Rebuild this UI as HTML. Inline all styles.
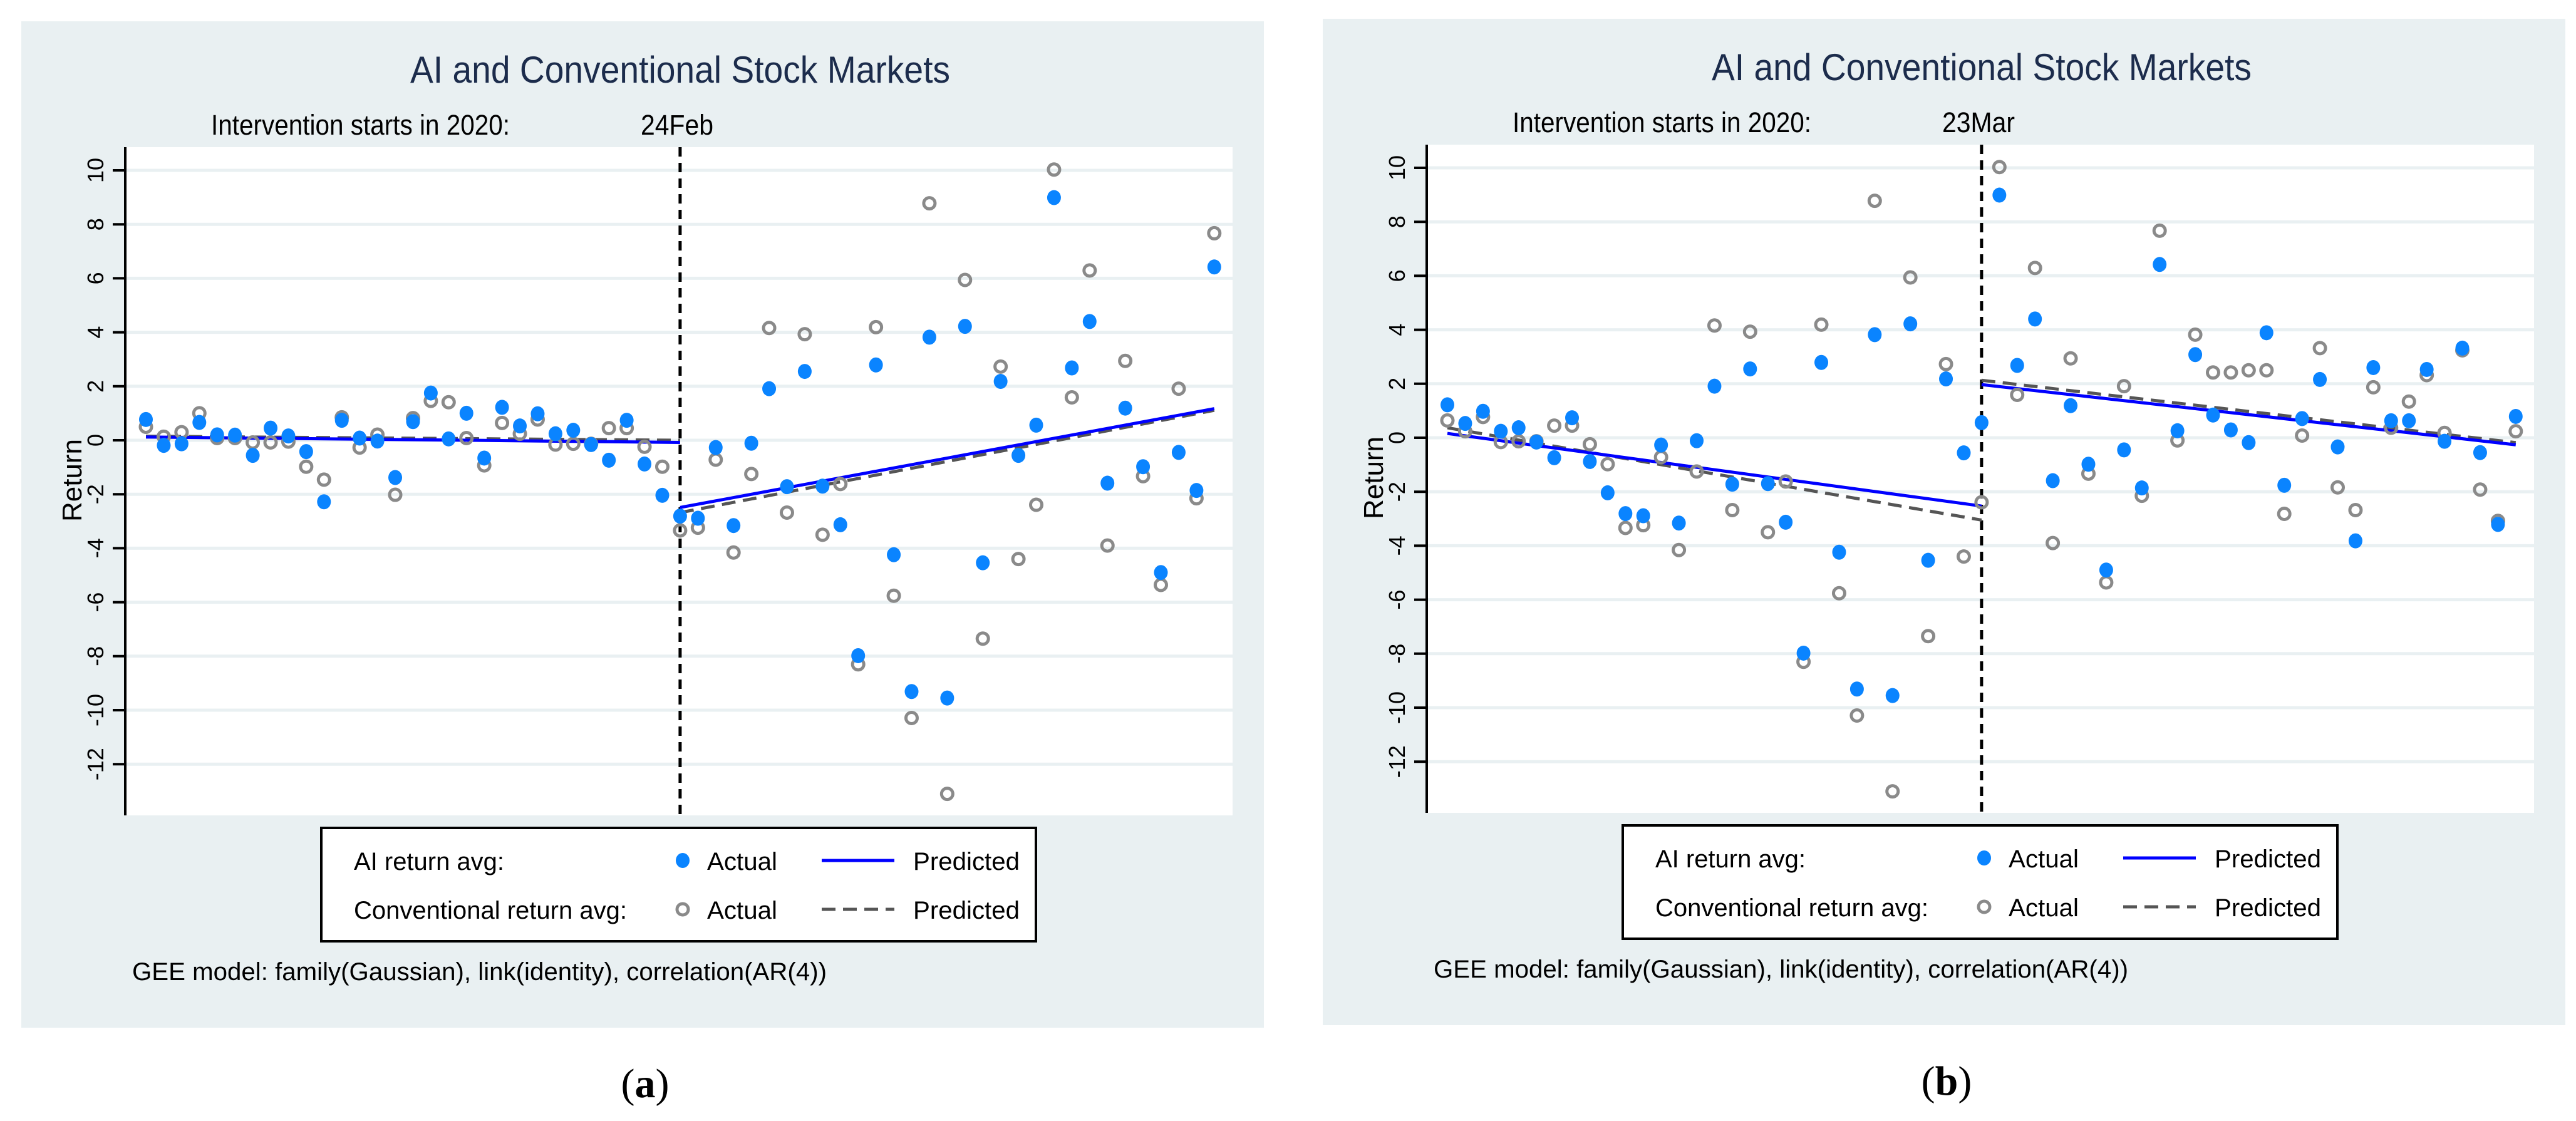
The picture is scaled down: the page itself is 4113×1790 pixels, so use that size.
<!DOCTYPE html>
<html><head><meta charset="utf-8"><style>
html,body{margin:0;padding:0;background:#fff;}
svg{display:block;}
text{font-family:"Liberation Sans",sans-serif;}
</style></head><body>
<svg id="chart" xmlns="http://www.w3.org/2000/svg" width="4113" height="1790" viewBox="0 0 4113 1790"></svg>
<script>
const aiA = [0.77,-0.19,-0.13,0.66,0.2,0.19,-0.56,0.45,0.16,-0.42,-2.28,0.74,0.08,-0.03,-1.38,0.69,1.75,0.05,1.0,-0.66,1.22,0.53,0.98,0.24,0.37,-0.16,-0.74,0.74,-0.88,-2.04,-2.81,-2.89,-0.27,-3.16,-0.11,1.91,-1.72,2.55,-1.7,-3.13,-7.98,2.79,-4.24,-9.31,3.82,-9.55,4.22,-4.54,2.18,-0.56,0.56,8.99,2.68,4.4,-1.59,1.19,-0.98,-4.9,-0.45,-1.86,6.42];
const convA = [0.5,0.13,0.3,1.0,0.08,0.08,-0.08,-0.08,-0.05,-0.98,-1.46,0.85,-0.27,0.21,-2.02,0.82,1.46,1.41,0.08,-0.93,0.64,0.24,0.77,-0.16,-0.13,-0.13,0.45,0.45,-0.24,-0.98,-3.34,-3.24,-0.72,-4.16,-1.25,4.16,-2.68,3.93,-3.5,-1.62,-8.3,4.19,-5.76,-10.29,8.78,-13.1,5.94,-7.35,2.73,-4.4,-2.39,10.03,1.59,6.29,-3.9,2.94,-1.33,-5.36,1.91,-2.15,7.67];
const aiB = [1.22,0.53,0.98,0.24,0.37,-0.16,-0.74,0.74,-0.88,-2.04,-2.81,-2.89,-0.27,-3.16,-0.11,1.91,-1.72,2.55,-1.7,-3.13,-7.98,2.79,-4.24,-9.31,3.82,-9.55,4.22,-4.54,2.18,-0.56,0.56,8.99,2.68,4.4,-1.59,1.19,-0.98,-4.9,-0.45,-1.86,6.42,0.26,3.08,0.84,0.29,-0.18,3.89,-1.76,0.71,2.16,-0.34,-3.82,2.6,0.63,0.63,2.53,-0.13,3.32,-0.55,-3.21,0.79];
const convB = [0.64,0.24,0.77,-0.16,-0.13,-0.13,0.45,0.45,-0.24,-0.98,-3.34,-3.24,-0.72,-4.16,-1.25,4.16,-2.68,3.93,-3.5,-1.62,-8.3,4.19,-5.76,-10.29,8.78,-13.1,5.94,-7.35,2.73,-4.4,-2.39,10.03,1.59,6.29,-3.9,2.94,-1.33,-5.36,1.91,-2.15,7.67,-0.1,3.82,2.42,2.42,2.5,2.5,-2.82,0.08,3.32,-1.84,-2.68,1.87,0.37,1.34,2.32,0.18,3.24,-1.92,-3.08,0.24];
const predAiA = [0.12,-0.08,-2.49,1.17];
const predConvA = [0.15,0.0,-2.68,1.11];
const predAiB = [0.16,-2.53,1.97,-0.26];
const predConvB = [0.37,-3.05,2.13,-0.18];
const yTicks = [10,8,6,4,2,0,-2,-4,-6,-8,-10,-12];
const interventionIdx = 30;

const NS = "http://www.w3.org/2000/svg";
const svg = document.getElementById('chart');
function mk(tag, attrs, parent, txt){
  const e = document.createElementNS(NS, tag);
  for (const k in attrs) e.setAttribute(k, attrs[k]);
  if (txt !== undefined) e.textContent = txt;
  (parent||svg).appendChild(e);
  return e;
}

function panel(ox, oy, ai, conv, pAi, pConv, dateLbl, tag, letter, pid){
  const g = mk('g', {transform:`translate(${ox},${oy})`});
  
  
  const X = i => 233 + i * 28.43;
  const Y = v => 703 - v * 43.1;
  const bg = mk('rect', {x:34, y:34, width:1984, height:1607, fill:'#e9f0f2'}, g);
  
  
  const t = mk('text', {x:1086, y:132, 'font-size':60, fill:'#1c2c4c', 'text-anchor':'middle', textLength:862, lengthAdjust:'spacingAndGlyphs'}, g, 'AI and Conventional Stock Markets');
  
  
  const it = mk('text', {x:337, y:215, 'font-size':45, fill:'#000', textLength:477, lengthAdjust:'spacingAndGlyphs'}, g, 'Intervention starts in 2020:');
  
  
  const dt = mk('text', {x:1023, y:215, 'font-size':45, fill:'#000', textLength:116, lengthAdjust:'spacingAndGlyphs'}, g, dateLbl);
  
  
  const pa = mk('rect', {x:200, y:235, width:1768, height:1067, fill:'#fff'}, g);
  
  
  yTicks.forEach(v => {
    const gl = mk('line', {x1:200, x2:1968, y1:Y(v), y2:Y(v), stroke:'#e9f0f2', 'stroke-width':5}, g);
    
    
    const tk = mk('line', {x1:180, x2:200, y1:Y(v), y2:Y(v), stroke:'#000', 'stroke-width':4}, g);
    
    
    const tl = mk('text', {x:0, y:0, 'font-size':36, fill:'#000', 'text-anchor':'middle', transform:`translate(165,${Y(v)}) rotate(-90)`}, g, String(v));
    
    
  });
  const ax = mk('line', {x1:200, x2:200, y1:235, y2:1302, stroke:'#000', 'stroke-width':4}, g);
  
  
  const yt = mk('text', {x:0, y:0, 'font-size':44, fill:'#000', 'text-anchor':'middle', transform:'translate(130,767) rotate(-90)'}, g, 'Return');
  
  
  const iv = mk('line', {x1:X(interventionIdx), x2:X(interventionIdx), y1:235, y2:1302, stroke:'#000', 'stroke-width':5, 'stroke-dasharray':'15 10'}, g);
  
  
  const n = ai.length - 1;
  const lines = [
    [pConv[0], pConv[1], 0, interventionIdx, '#555', '22 12', 'conv-predicted-pre'],
    [pConv[2], pConv[3], interventionIdx, n, '#555', '22 12', 'conv-predicted-post'],
    [pAi[0], pAi[1], 0, interventionIdx, '#0000ff', null, 'ai-predicted-pre'],
    [pAi[2], pAi[3], interventionIdx, n, '#0000ff', null, 'ai-predicted-post']
  ];
  lines.forEach(l => {
    const a = {x1:X(l[2]), y1:Y(l[0]), x2:X(l[3]), y2:Y(l[1]), stroke:l[4], 'stroke-width':5};
    if (l[5]) a['stroke-dasharray'] = l[5];
    const ln = mk('line', a, g);
    
    
  });
  conv.forEach((v, i) => {
    const c = mk('circle', {cx:X(i), cy:Y(v), r:9, fill:'none', stroke:'#8a8a8a', 'stroke-width':5}, g);
    
    
  });
  ai.forEach((v, i) => {
    const c = mk('ellipse', {cx:X(i), cy:Y(v), rx:11, ry:12, fill:'#0a84ff'}, g);
    
    
  });
  // legend
  const lg = mk('g', {}, g);
  
  
  mk('rect', {x:513, y:1322, width:1141, height:181, fill:'#fff', stroke:'#000', 'stroke-width':4}, lg);
  const l1 = mk('text', {x:565, y:1389, 'font-size':40, textLength:240, lengthAdjust:'spacingAndGlyphs'}, lg, 'AI return avg:');
  
  
  const l2 = mk('text', {x:565, y:1467, 'font-size':40, textLength:436, lengthAdjust:'spacingAndGlyphs'}, lg, 'Conventional return avg:');
  
  
  const m1 = mk('ellipse', {cx:1090, cy:1374, rx:11, ry:12, fill:'#0a84ff'}, lg);
  
  
  const m2 = mk('circle', {cx:1090, cy:1452, r:9, fill:'none', stroke:'#8a8a8a', 'stroke-width':5}, lg);
  
  
  [1389, 1467].forEach(yb => {
    const a = mk('text', {x:1129, y:yb, 'font-size':40, textLength:112, lengthAdjust:'spacingAndGlyphs'}, lg, 'Actual');
    
    
    const p = mk('text', {x:1458, y:yb, 'font-size':40, textLength:170, lengthAdjust:'spacingAndGlyphs'}, lg, 'Predicted');
    
    
  });
  const ll1 = mk('line', {x1:1312, x2:1428, y1:1374, y2:1374, stroke:'#0000ff', 'stroke-width':5}, lg);
  
  
  const ll2 = mk('line', {x1:1312, x2:1428, y1:1452, y2:1452, stroke:'#555', 'stroke-width':5, 'stroke-dasharray':'22 12'}, lg);
  
  
  const note = mk('text', {x:211, y:1565, 'font-size':40, textLength:1109, lengthAdjust:'spacingAndGlyphs'}, g, 'GEE model: family(Gaussian), link(identity), correlation(AR(4))');
  
  
  const cap = mk('text', {x:1030, y:1752, 'font-size':66, 'text-anchor':'middle', style:'font-family:"Liberation Serif",serif'}, g);
  
  
  mk('tspan', {}, cap, '(');
  mk('tspan', {'font-weight':'bold'}, cap, letter);
  mk('tspan', {}, cap, ')');
}
panel(0, 0, aiA, convA, predAiA, predConvA, '24Feb', 'a', 'a', 'a');
panel(2078, -4, aiB, convB, predAiB, predConvB, '23Mar', 'b', 'b', 'b');
</script>
</body></html>
